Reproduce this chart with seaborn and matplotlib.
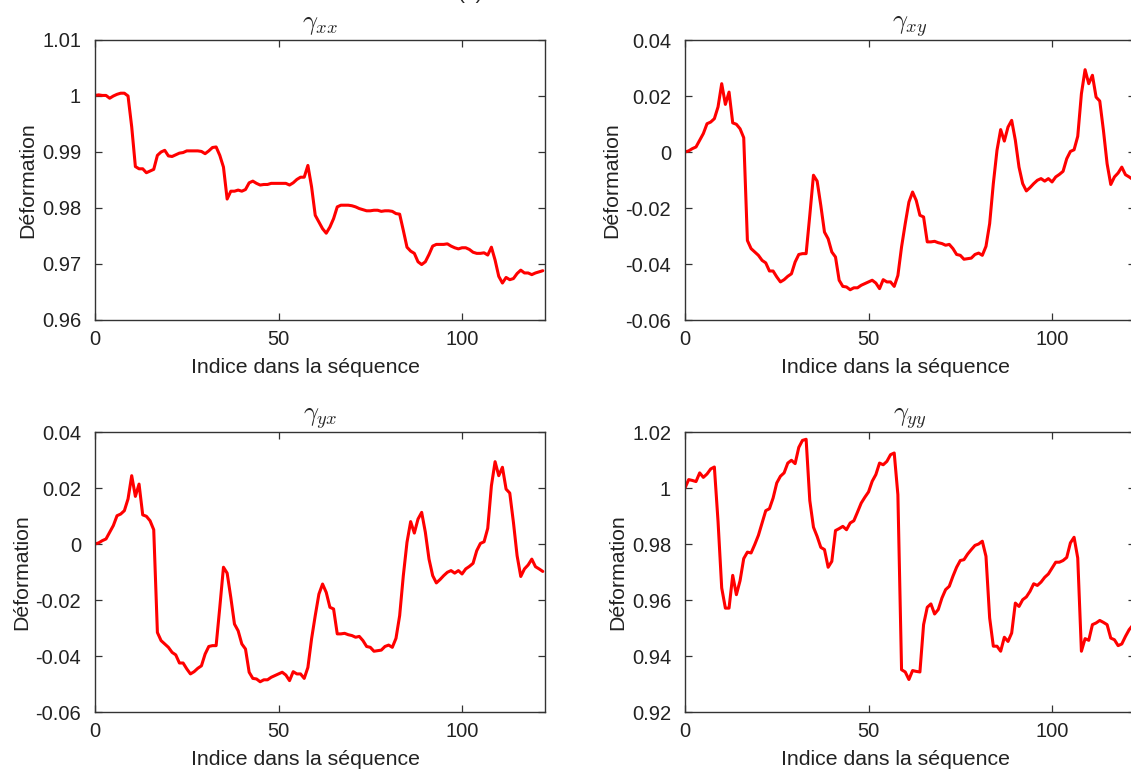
import numpy as np
import matplotlib
matplotlib.use("Agg")
import matplotlib.pyplot as plt
import seaborn as sns

# ---------------- data ----------------
gamma_xx = [
    1.0001, 1.0002, 1.0001, 1.0001, 0.9996, 1.0000, 1.0003, 1.0005, 1.0005, 1.0000,
    0.9945, 0.9874, 0.9870, 0.9870, 0.9863, 0.9866, 0.9869, 0.9894, 0.9900, 0.9903,
    0.9893, 0.9892, 0.9895, 0.9898, 0.9899, 0.9902, 0.9902, 0.9902, 0.9902, 0.9901,
    0.9897, 0.9902, 0.9908, 0.9909, 0.9894, 0.9873, 0.9816, 0.9830, 0.9830, 0.9832,
    0.9830, 0.9833, 0.9845, 0.9848, 0.9844, 0.9841, 0.9842, 0.9842, 0.9844, 0.9844,
    0.9844, 0.9844, 0.9844, 0.9841, 0.9845, 0.9851, 0.9855, 0.9855, 0.9876, 0.9838,
    0.9787, 0.9775, 0.9763, 0.9755, 0.9766, 0.9781, 0.9802, 0.9805, 0.9805, 0.9805,
    0.9804, 0.9802, 0.9799, 0.9797, 0.9795, 0.9795, 0.9796, 0.9796, 0.9794, 0.9795,
    0.9795, 0.9794, 0.9790, 0.9789, 0.9760, 0.9730, 0.9723, 0.9719, 0.9704, 0.9699,
    0.9704, 0.9717, 0.9732, 0.9735, 0.9735, 0.9735, 0.9736, 0.9732, 0.9729, 0.9727,
    0.9729, 0.9729, 0.9726, 0.9721, 0.9719, 0.9719, 0.9720, 0.9716, 0.9730, 0.9707,
    0.9678, 0.9666, 0.9676, 0.9672, 0.9674, 0.9683, 0.9689, 0.9684, 0.9684, 0.9681,
    0.9684, 0.9686, 0.9688,
]

gamma_xy = [
    0.0000, 0.0004, 0.0012, 0.0018, 0.0042, 0.0066, 0.0101, 0.0107, 0.0119, 0.0161,
    0.0244, 0.0170, 0.0214, 0.0104, 0.0099, 0.0083, 0.0051, -0.0316, -0.0345, -0.0357,
    -0.0369, -0.0387, -0.0396, -0.0425, -0.0425, -0.0446, -0.0464, -0.0456, -0.0444, -0.0435,
    -0.0393, -0.0366, -0.0363, -0.0363, -0.0226, -0.0083, -0.0104, -0.0191, -0.0286, -0.0310,
    -0.0357, -0.0375, -0.0458, -0.0480, -0.0482, -0.0492, -0.0485, -0.0485, -0.0476, -0.0470,
    -0.0464, -0.0458, -0.0468, -0.0488, -0.0456, -0.0464, -0.0464, -0.0480, -0.0441, -0.0339,
    -0.0256, -0.0179, -0.0143, -0.0173, -0.0226, -0.0232, -0.0321, -0.0321, -0.0319, -0.0324,
    -0.0327, -0.0333, -0.0330, -0.0345, -0.0366, -0.0369, -0.0383, -0.0381, -0.0379, -0.0366,
    -0.0361, -0.0369, -0.0337, -0.0256, -0.0113, 0.0006, 0.0080, 0.0039, 0.0089, 0.0113,
    0.0042, -0.0054, -0.0113, -0.0139, -0.0127, -0.0113, -0.0101, -0.0095, -0.0104, -0.0095,
    -0.0107, -0.0089, -0.0080, -0.0069, -0.0024, 0.0002, 0.0008, 0.0056, 0.0208, 0.0294,
    0.0244, 0.0274, 0.0196, 0.0182, 0.0077, -0.0042, -0.0116, -0.0089, -0.0075, -0.0054,
    -0.0081, -0.0089, -0.0098,
]

gamma_yx = [
    0.0000, 0.0004, 0.0012, 0.0018, 0.0042, 0.0066, 0.0101, 0.0107, 0.0119, 0.0161,
    0.0244, 0.0170, 0.0214, 0.0104, 0.0099, 0.0083, 0.0051, -0.0316, -0.0345, -0.0357,
    -0.0369, -0.0387, -0.0396, -0.0425, -0.0425, -0.0446, -0.0464, -0.0456, -0.0444, -0.0435,
    -0.0393, -0.0366, -0.0363, -0.0363, -0.0226, -0.0083, -0.0104, -0.0191, -0.0286, -0.0310,
    -0.0357, -0.0375, -0.0458, -0.0480, -0.0482, -0.0492, -0.0485, -0.0485, -0.0476, -0.0470,
    -0.0464, -0.0458, -0.0468, -0.0488, -0.0456, -0.0464, -0.0464, -0.0480, -0.0441, -0.0339,
    -0.0256, -0.0179, -0.0143, -0.0173, -0.0226, -0.0232, -0.0321, -0.0321, -0.0319, -0.0324,
    -0.0327, -0.0333, -0.0330, -0.0345, -0.0366, -0.0369, -0.0383, -0.0381, -0.0379, -0.0366,
    -0.0361, -0.0369, -0.0337, -0.0256, -0.0113, 0.0006, 0.0080, 0.0039, 0.0089, 0.0113,
    0.0042, -0.0054, -0.0113, -0.0139, -0.0127, -0.0113, -0.0101, -0.0095, -0.0104, -0.0095,
    -0.0107, -0.0089, -0.0080, -0.0069, -0.0024, 0.0002, 0.0008, 0.0056, 0.0208, 0.0294,
    0.0244, 0.0274, 0.0196, 0.0182, 0.0077, -0.0042, -0.0116, -0.0089, -0.0075, -0.0054,
    -0.0081, -0.0089, -0.0098,
]

gamma_yy = [
    1.0000, 1.0030, 1.0027, 1.0023, 1.0054, 1.0038, 1.0050, 1.0068, 1.0075, 0.9881,
    0.9643, 0.9571, 0.9571, 0.9688, 0.9619, 0.9669, 0.9748, 0.9771, 0.9768, 0.9798,
    0.9831, 0.9875, 0.9919, 0.9926, 0.9964, 1.0018, 1.0042, 1.0054, 1.0089, 1.0099,
    1.0087, 1.0145, 1.0170, 1.0174, 0.9955, 0.9860, 0.9827, 0.9788, 0.9780, 0.9717,
    0.9738, 0.9848, 0.9855, 0.9863, 0.9851, 0.9875, 0.9883, 0.9914, 0.9946, 0.9967,
    0.9986, 1.0024, 1.0048, 1.0089, 1.0083, 1.0095, 1.0119, 1.0125, 0.9976, 0.9351,
    0.9343, 0.9316, 0.9348, 0.9345, 0.9343, 0.9512, 0.9574, 0.9586, 0.9550, 0.9566,
    0.9607, 0.9637, 0.9649, 0.9685, 0.9717, 0.9741, 0.9744, 0.9764, 0.9780, 0.9795,
    0.9800, 0.9810, 0.9756, 0.9536, 0.9435, 0.9435, 0.9417, 0.9467, 0.9452, 0.9482,
    0.9589, 0.9577, 0.9601, 0.9611, 0.9631, 0.9658, 0.9652, 0.9664, 0.9681, 0.9693,
    0.9714, 0.9735, 0.9735, 0.9741, 0.9752, 0.9804, 0.9824, 0.9750, 0.9417, 0.9462,
    0.9456, 0.9512, 0.9518, 0.9527, 0.9520, 0.9512, 0.9464, 0.9458, 0.9437, 0.9443,
    0.9470, 0.9494, 0.9510,
]

titles = [r"$\gamma_{xx}$", r"$\gamma_{xy}$", r"$\gamma_{yx}$", r"$\gamma_{yy}$"]
x_ticks = [0, 50, 100]
x_tick_labels = ["0", "50", "100"]
yticks_xx = [0.96, 0.97, 0.98, 0.99, 1.00, 1.01]
ylabels_xx = ["0.96", "0.97", "0.98", "0.99", "1", "1.01"]
yticks_xy = [-0.06, -0.04, -0.02, 0.0, 0.02, 0.04]
ylabels_xy = ["-0.06", "-0.04", "-0.02", "0", "0.02", "0.04"]
yticks_yy = [0.92, 0.94, 0.96, 0.98, 1.00, 1.02]
ylabels_yy = ["0.92", "0.94", "0.96", "0.98", "1", "1.02"]
x_label = "Indice dans la séquence"
y_label = "Déformation"
panel_label = "(a)"

# ---------------- style ----------------
sns.set_style("ticks")
plt.rcParams["font.family"] = ["Liberation Sans", "DejaVu Sans"]
plt.rcParams["mathtext.fontset"] = "cm"

W, H = 1131, 769
fig = plt.figure(figsize=(W / 100, H / 100), dpi=100)

def px_axes(left, top, right, bottom):
    return fig.add_axes([left / W, 1 - bottom / H, (right - left) / W, (bottom - top) / H])

panels = [
    (px_axes(95, 40, 545, 320), gamma_xx, yticks_xx, ylabels_xx, titles[0]),
    (px_axes(685, 40, 1135, 320), gamma_xy, yticks_xy, ylabels_xy, titles[1]),
    (px_axes(95, 432, 545, 712), gamma_yx, yticks_xy, ylabels_xy, titles[2]),
    (px_axes(685, 432, 1135, 712), gamma_yy, yticks_yy, ylabels_yy, titles[3]),
]

spine_col = "#333333"
for ax, ser, yt, yl, tt in panels:
    idx = np.arange(len(ser))
    sns.lineplot(x=idx, y=ser, ax=ax, color="#ff0000", linewidth=2.2)
    ax.set_xlim(0, 122.6)
    ax.set_ylim(yt[0], yt[-1])
    ax.set_xticks(x_ticks)
    ax.set_xticklabels(x_tick_labels)
    ax.set_yticks(yt)
    ax.set_yticklabels(yl)
    ax.tick_params(direction="in", top=True, right=True, length=5, width=0.9,
                   color=spine_col, labelsize=14.5, labelcolor="#222222")
    ax.tick_params(axis="y", pad=10)
    ax.tick_params(axis="x", pad=7)
    for s in ax.spines.values():
        s.set_visible(True)
        s.set_color(spine_col)
        s.set_linewidth(1.0)
    ax.set_xlabel(x_label, fontsize=15.3, color="#222222", labelpad=7)
    ax.xaxis.label.set_x(0.468)
    ax.set_ylabel(y_label, fontsize=15.3, color="#222222", labelpad=3)
    ax.set_title(tt, fontsize=19, pad=8)

fig.text(470 / W, 1 + 1.5 / H, panel_label, ha="center", va="baseline", fontsize=15)

fig.savefig("out.png", dpi=100)
